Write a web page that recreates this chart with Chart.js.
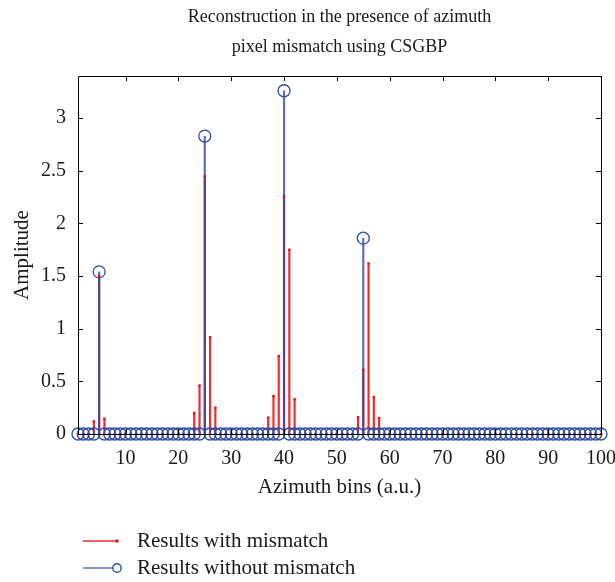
<!DOCTYPE html>
<html>
<head>
<meta charset="utf-8">
<title>Reconstruction in the presence of azimuth pixel mismatch using CSGBP</title>
<script src="https://cdn.jsdelivr.net/npm/chart.js@4/dist/chart.umd.min.js"></script>
<style>
  html, body { margin: 0; padding: 0; background: #fff; }
  #wrap { position: relative; width: 615px; height: 582px; }
  #chart { display: block; }
  .legend {
    position: absolute; left: 83px; top: 527px;
    font-family: 'Liberation Serif', 'Times New Roman', serif;
    font-size: 21px; color: #1a1a1a;
  }
  .legend-row { display: flex; align-items: center; height: 27px; white-space: nowrap; }
  .legend-row svg { width: 40px; height: 14px; margin-right: 14px; flex: none; }
</style>
</head>
<body>
<div id="wrap">
  <canvas id="chart" width="615" height="582"></canvas>
  <div class="legend">
    <div class="legend-row">
      <svg viewBox="0 0 40 14"><line x1="0" y1="7" x2="34" y2="7" stroke="#f02a2a" stroke-width="1.5"/><rect x="32.5" y="5.5" width="3" height="3" fill="#e81010"/></svg>
      <span>Results with mismatch</span>
    </div>
    <div class="legend-row">
      <svg viewBox="0 0 40 14"><line x1="0" y1="7" x2="30" y2="7" stroke="#5a72b4" stroke-width="1.5"/><circle cx="34" cy="7" r="4.2" fill="none" stroke="#2e4da3" stroke-width="1.4"/></svg>
      <span>Results without mismatch</span>
    </div>
  </div>
</div>
<script>
/* ===== Stem plot: CSGBP reconstruction with / without azimuth pixel mismatch ===== */

const TITLE_LINES = ['Reconstruction in the presence of azimuth', 'pixel mismatch using CSGBP'];

const BINS = [
   1,  2,  3,  4,  5,  6,  7,  8,  9, 10,
  11, 12, 13, 14, 15, 16, 17, 18, 19, 20,
  21, 22, 23, 24, 25, 26, 27, 28, 29, 30,
  31, 32, 33, 34, 35, 36, 37, 38, 39, 40,
  41, 42, 43, 44, 45, 46, 47, 48, 49, 50,
  51, 52, 53, 54, 55, 56, 57, 58, 59, 60,
  61, 62, 63, 64, 65, 66, 67, 68, 69, 70,
  71, 72, 73, 74, 75, 76, 77, 78, 79, 80,
  81, 82, 83, 84, 85, 86, 87, 88, 89, 90,
  91, 92, 93, 94, 95, 96, 97, 98, 99, 100,
];

// with mismatch (red)
const WITH_MISMATCH = [
  0, 0, 0, 0.12, 1.50, 0.145, 0, 0, 0, 0,
  0, 0, 0, 0, 0, 0, 0, 0, 0, 0,
  0, 0, 0.20, 0.46, 2.45, 0.92, 0.25, 0, 0, 0,
  0, 0, 0, 0, 0, 0, 0.155, 0.36, 0.74, 2.26,
  1.75, 0.33, 0, 0, 0, 0, 0, 0, 0, 0,
  0, 0, 0, 0.16, 0.61, 1.62, 0.35, 0.15, 0, 0,
  0, 0, 0, 0, 0, 0, 0, 0, 0, 0,
  0, 0, 0, 0, 0, 0, 0, 0, 0, 0,
  0, 0, 0, 0, 0, 0, 0, 0, 0, 0,
  0, 0, 0, 0, 0, 0, 0, 0, 0, 0,
];

// without mismatch (blue)
const WITHOUT_MISMATCH = [
  0, 0, 0, 0, 1.54, 0, 0, 0, 0, 0,
  0, 0, 0, 0, 0, 0, 0, 0, 0, 0,
  0, 0, 0, 0, 2.83, 0, 0, 0, 0, 0,
  0, 0, 0, 0, 0, 0, 0, 0, 0, 3.26,
  0, 0, 0, 0, 0, 0, 0, 0, 0, 0,
  0, 0, 0, 0, 1.86, 0, 0, 0, 0, 0,
  0, 0, 0, 0, 0, 0, 0, 0, 0, 0,
  0, 0, 0, 0, 0, 0, 0, 0, 0, 0,
  0, 0, 0, 0, 0, 0, 0, 0, 0, 0,
  0, 0, 0, 0, 0, 0, 0, 0, 0, 0,
];

const X_TICKS = [10, 20, 30, 40, 50, 60, 70, 80, 90, 100];
const Y_TICKS = [0, 0.5, 1, 1.5, 2, 2.5, 3];

const SERIF = "'Liberation Serif', 'Times New Roman', serif";
const TEXT = '#1a1a1a';

const toPoints = vals => BINS.map((b, i) => ({ x: b, y: vals[i] }));

/* ---------- box + inward tick marks (matlab style) ---------- */

const axisBox = {
  id: 'axisBox',
  afterDatasetsDraw(chart) {
    const { ctx, chartArea: a, scales: { x, y } } = chart;
    const len = 5;
    ctx.save();
    ctx.strokeStyle = '#000';
    ctx.lineWidth = 1;
    ctx.beginPath();
    ctx.rect(Math.round(a.left) + 0.5, Math.round(a.top) + 0.5,
      Math.round(a.right - a.left), Math.round(a.bottom - a.top));
    X_TICKS.forEach(v => {
      const px = Math.round(x.getPixelForValue(v)) + 0.5;
      ctx.moveTo(px, a.bottom); ctx.lineTo(px, a.bottom - len);
      ctx.moveTo(px, a.top); ctx.lineTo(px, a.top + len);
    });
    Y_TICKS.forEach(v => {
      const py = Math.round(y.getPixelForValue(v)) + 0.5;
      ctx.moveTo(a.left, py); ctx.lineTo(a.left + len, py);
      ctx.moveTo(a.right, py); ctx.lineTo(a.right - len, py);
    });
    ctx.stroke();
    ctx.restore();
  },
};

new Chart(document.getElementById('chart'), {
  type: 'bar',
  data: {
    datasets: [
      {
        type: 'line',
        label: 'Results without mismatch',
        data: toPoints(WITHOUT_MISMATCH),
        showLine: false,
        pointStyle: 'circle',
        pointRadius: 6,
        borderColor: '#2e4da3',
        backgroundColor: 'rgba(0,0,0,0)',
        pointBorderWidth: 1.3,
        clip: false,
        order: 0,
      },
      {
        type: 'line',
        label: 'Results with mismatch',
        data: toPoints(WITH_MISMATCH),
        showLine: false,
        pointStyle: 'rect',
        pointRadius: 1.7,
        borderColor: '#e81010',
        backgroundColor: '#e81010',
        pointBorderWidth: 0,
        clip: false,
        order: 1,
      },
      {
        type: 'bar',
        data: toPoints(WITHOUT_MISMATCH),
        backgroundColor: 'rgba(40,70,175,0.78)',
        barThickness: 1.5,
        grouped: false,
        order: 2,
      },
      {
        type: 'bar',
        data: toPoints(WITH_MISMATCH),
        backgroundColor: '#f52a2a',
        barThickness: 1.5,
        grouped: false,
        order: 3,
      },
    ],
  },
  options: {
    responsive: false,
    animation: false,
    events: [],
    layout: { padding: { left: 0, right: 14, top: 0, bottom: 78 } },
    scales: {
      x: {
        type: 'linear',
        min: 1,
        max: 100,
        offset: false,
        grid: { display: false, drawTicks: false },
        border: { display: false },
        afterBuildTicks: s => { s.ticks = X_TICKS.map(v => ({ value: v })); },
        ticks: {
          padding: 13, maxRotation: 0, autoSkip: false,
          color: TEXT, font: { family: SERIF, size: 20 },
          callback: v => String(v),
        },
        title: {
          display: true, text: 'Azimuth bins (a.u.)', color: TEXT,
          font: { family: SERIF, size: 21 }, padding: { top: 0, bottom: 4 },
        },
        afterFit: s => { s.height = 70; s.paddingLeft = 0; s.paddingRight = 0; },
      },
      y: {
        min: 0,
        max: 3.4,
        grid: { display: false, drawTicks: false },
        border: { display: false },
        afterBuildTicks: s => { s.ticks = Y_TICKS.map(v => ({ value: v })); },
        ticks: {
          padding: 12, color: TEXT, font: { family: SERIF, size: 20 },
          callback: v => String(v),
        },
        title: {
          display: true, text: 'Amplitude', color: TEXT,
          font: { family: SERIF, size: 21 }, padding: { top: 10, bottom: 0 },
        },
        afterFit: s => { s.width = 78; s.paddingTop = 0; s.paddingBottom = 0; },
      },
    },
    plugins: {
      legend: { display: false },
      tooltip: { enabled: false },
      title: {
        display: true,
        fullSize: false,
        text: TITLE_LINES,
        color: TEXT,
        font: { family: SERIF, size: 18, weight: 'normal', lineHeight: 1.667 },
        padding: { top: 2, bottom: 14 },
      },
    },
  },
  plugins: [axisBox],
});
</script>
</body>
</html>
